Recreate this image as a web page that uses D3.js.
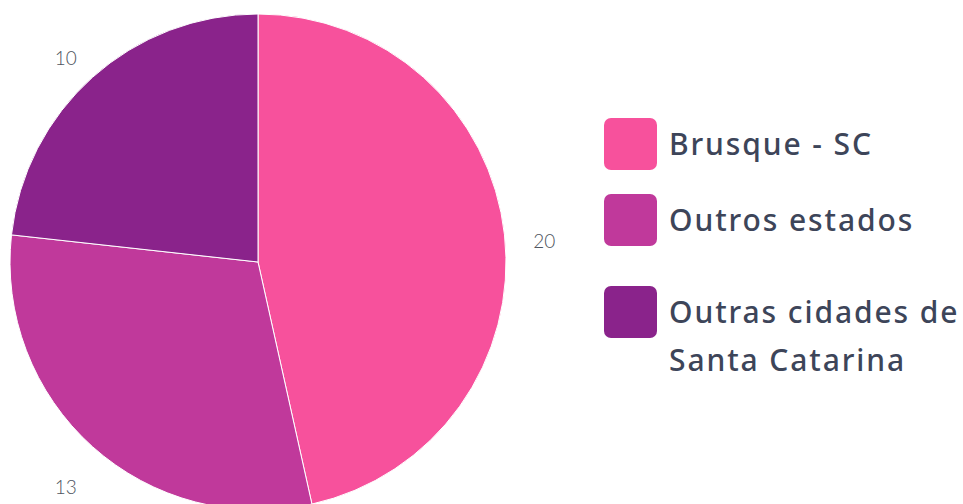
<!DOCTYPE html>
<html><head><meta charset="utf-8">
<script src="https://cdn.jsdelivr.net/npm/d3@7"></script>
<style>html,body{margin:0;padding:0;background:#fff;overflow:hidden}</style>
</head><body>
<svg id="chart" width="963" height="504"></svg>
<script>
const categories = ["Brusque - SC", "Outros estados", "Outras cidades de Santa Catarina"];
const legendLines = [["Brusque - SC"], ["Outros estados"], ["Outras cidades de", "Santa Catarina"]];
const values = [20, 13, 10];
const colors = ["#f7519c", "#c0399b", "#8a238b"];

const svg = d3.select("#chart");
const cx = 258, cy = 262, R = 248;
const pie = d3.pie().sort(null).value(d => d)(values);
const arc = d3.arc().innerRadius(0).outerRadius(R);
const labelArc = d3.arc().innerRadius(288).outerRadius(288);

const g = svg.append("g").attr("transform", `translate(${cx},${cy})`);
g.selectAll("path").data(pie).join("path")
  .attr("d", arc)
  .attr("fill", (d, i) => colors[i])
  .attr("stroke", "#fff").attr("stroke-width", 1);

g.selectAll("text.lbl").data(pie).join("text")
  .attr("class", "lbl")
  .attr("x", d => labelArc.centroid(d)[0])
  .attr("y", d => labelArc.centroid(d)[1] + 13)
  .attr("text-anchor", "middle").attr("dominant-baseline", "middle")
  .attr("font-family", "Lato, 'Open Sans', sans-serif")
  .attr("font-weight", 300)
  .attr("font-size", 19).attr("fill", "#4f5560")
  .text(d => d.data);

const legendY = [118, 194, 286];
const lg = svg.append("g");
categories.forEach((c, i) => {
  const item = lg.append("g").attr("transform", `translate(604,${legendY[i]})`);
  item.append("rect").attr("width", 53).attr("height", 52).attr("rx", 7)
    .attr("fill", colors[i]);
  const t = item.append("text")
    .attr("font-family", "'Noto Sans', 'Open Sans', sans-serif")
    .attr("font-weight", 500)
    .attr("letter-spacing", 1.9)
    .attr("font-size", 30).attr("fill", "#3d4559");
  legendLines[i].forEach((line, j) => {
    t.append("tspan").attr("x", 65).attr("y", 37 + j * 48).text(line);
  });
});
</script>
</body></html>
